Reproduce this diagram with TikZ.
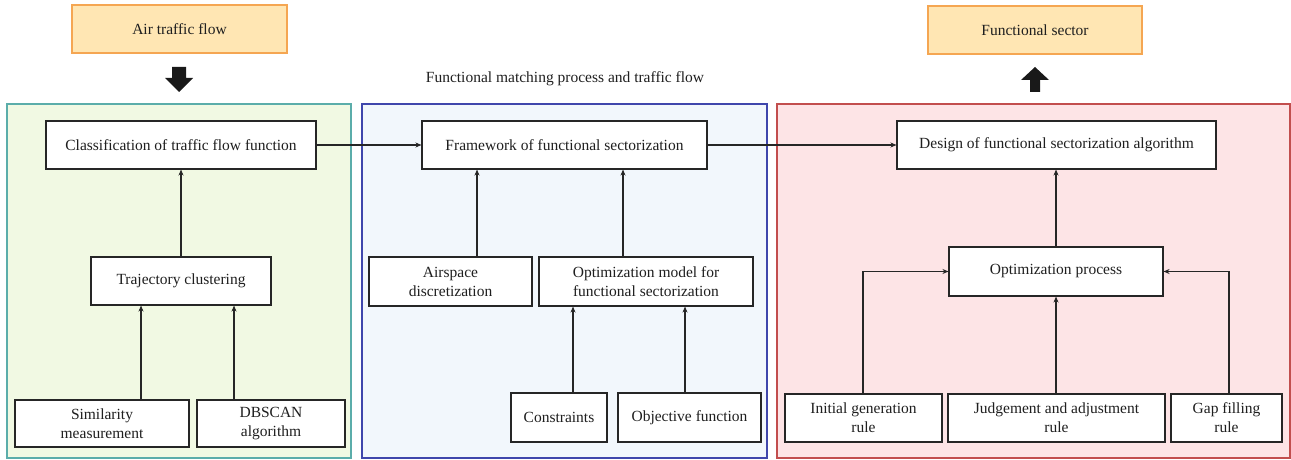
\documentclass[tikz,border=0pt]{standalone}
\usepackage{fontspec}
\setmainfont{Liberation Serif}
\usetikzlibrary{arrows.meta}
\definecolor{orfill}{HTML}{FFE6B3}
\definecolor{ordraw}{HTML}{F5A652}
\definecolor{grfill}{HTML}{F1F9E3}
\definecolor{grdraw}{HTML}{5BADAA}
\definecolor{blfill}{HTML}{F2F7FC}
\definecolor{bldraw}{HTML}{4047AC}
\definecolor{rdfill}{HTML}{FDE4E6}
\definecolor{rddraw}{HTML}{C24E4E}
\begin{document}
\begin{tikzpicture}[x=1pt,y=-1pt,
  txt/.style={font=\fontsize{15.5}{19}\selectfont, text=black!88},
  box/.style={txt, draw=black!85, line width=1.1pt, fill=white, inner sep=0pt, align=center},
  iobox/.style={txt, draw=ordraw, line width=1.2pt, fill=orfill, inner sep=0pt, align=center},
  arr/.style={draw=black!85, line width=1.1pt, -{Stealth[length=6pt,width=5pt]}},
  panel/.style={line width=1.3pt}]
\useasboundingbox (0,0) rectangle (1291,460);
% panels
\filldraw[panel, draw=grdraw, fill=grfill] (7,104) rectangle (351,458);
\filldraw[panel, draw=bldraw, fill=blfill] (362,104) rectangle (767,458);
\filldraw[panel, draw=rddraw, fill=rdfill] (777,104) rectangle (1290,458);
% top boxes
\node[iobox, minimum width=215pt, minimum height=48pt] (atf) at (179.5,29) {Air traffic flow};
\node[iobox, minimum width=214pt, minimum height=48pt] (fs) at (1035,30) {Functional sector};
\node[txt] (title) at (565,79) {Functional matching process and traffic flow};
% block arrows
\fill[black!90] (172,67) -- (186,67) -- (186,78) -- (193,78) -- (179,92) -- (165,78) -- (172,78) -- cycle;
\fill[black!90] (1030,92) -- (1040,92) -- (1040,80) -- (1049,80) -- (1035,67) -- (1021,80) -- (1030,80) -- cycle;
% green
\node[box, minimum width=270pt, minimum height=48pt] (cls) at (181,145) {Classification of traffic flow function};
\node[box, minimum width=180pt, minimum height=48pt] (traj) at (181,281) {Trajectory clustering};
\node[box, minimum width=174pt, minimum height=47pt] (sim) at (102,423.5) {Similarity\\measurement};
\node[box, minimum width=148pt, minimum height=47pt] (dbs) at (271,423.5) {DBSCAN\\algorithm};
% blue
\node[box, minimum width=285pt, minimum height=48pt] (fw) at (564.5,145) {Framework of functional sectorization};
\node[box, minimum width=163pt, minimum height=49pt] (air) at (450.5,281.5) {Airspace\\discretization};
\node[box, minimum width=214pt, minimum height=49pt] (opt) at (646,281.5) {Optimization model for\\functional sectorization};
\node[box, minimum width=96pt, minimum height=49pt] (con) at (559,417.5) {Constraints};
\node[box, minimum width=143pt, minimum height=49pt] (obj) at (689.5,417.5) {Objective function};
% red
\node[box, minimum width=319pt, minimum height=48pt] (des) at (1056.5,145) {Design of functional sectorization algorithm};
\node[box, minimum width=214pt, minimum height=49pt] (op) at (1056,271.5) {Optimization process};
\node[box, minimum width=157pt, minimum height=48pt] (ini) at (863.5,418) {Initial generation\\rule};
\node[box, minimum width=217pt, minimum height=48pt] (jud) at (1056.5,418) {Judgement and adjustment\\rule};
\node[box, minimum width=111pt, minimum height=48pt] (gap) at (1226.5,418) {Gap filling\\rule};
% connector anchors
\coordinate (s1) at ([xshift=39pt]sim.north);
\coordinate (d1) at ([xshift=-37pt]dbs.north);
\coordinate (a1) at ([xshift=26.5pt]air.north);
\coordinate (o1) at ([xshift=-23pt]opt.north);
\coordinate (c1) at ([xshift=14pt]con.north);
\coordinate (b1) at ([xshift=-4.5pt]obj.north);
\coordinate (j1) at ([xshift=-0.5pt]jud.north);
\coordinate (i1) at ([xshift=-0.5pt]ini.north);
\coordinate (g1) at ([xshift=2.5pt]gap.north);
% connectors
\draw[arr] (traj.north) -- (traj.north |- cls.south);
\draw[arr] (s1) -- (s1 |- traj.south);
\draw[arr] (d1) -- (d1 |- traj.south);
\draw[arr] (a1) -- (a1 |- fw.south);
\draw[arr] (o1) -- (o1 |- fw.south);
\draw[arr] (c1) -- (c1 |- opt.south);
\draw[arr] (b1) -- (b1 |- opt.south);
\draw[arr] (op.north) -- (op.north |- des.south);
\draw[arr] (j1) -- (j1 |- op.south);
\draw[arr] (i1) |- (op.west);
\draw[arr] (g1) |- (op.east);
\draw[arr] (cls.east) -- (fw.west);
\draw[arr] (fw.east) -- (des.west);
\end{tikzpicture}
\end{document}
